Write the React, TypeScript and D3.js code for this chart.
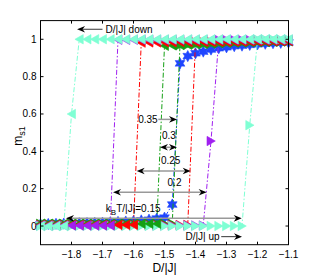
import React from "react";
import * as d3 from "d3";

// D/|J| grid used by every sweep
const D = [
  -1.9, -1.875, -1.85, -1.825, -1.8, -1.775, -1.75, -1.725, -1.7, -1.675, -1.65,
  -1.625, -1.6, -1.575, -1.55, -1.525, -1.5, -1.475, -1.45, -1.425, -1.4, -1.375,
  -1.35, -1.325, -1.3, -1.275, -1.25, -1.225, -1.2, -1.175, -1.15, -1.125, -1.1,
];

// kT = 0.15
const up015 = [
  0, 0, 0, 0, 0, 0, 0, 0, 0, 0, 0, 0, 0, 0, 0, 0, 0, 0, 0, 0, 0, 0, 0, 0, 0, 0, 0,
  0.54, 1, 1, 1, 1, 1,
];
const down015 = [
  0, 0, 0, 0, 0.6, 1, 1, 1, 1, 1, 1, 1, 1, 1, 1, 1, 1, 1, 1, 1, 1, 1, 1, 1, 1, 1,
  1, 1, 1, 1, 1, 1, 1,
];
// kT = 0.2
const up020 = [
  0.003, 0.003, 0.003, 0.003, 0.003, 0.003, 0.003, 0.003, 0.003, 0.003, 0.003,
  0.003, 0.003, 0.003, 0.003, 0.003, 0.003, 0.003, 0.003, 0.003, 0.003, 0.003,
  0.455, 0.997, 0.997, 0.997, 0.997, 0.997, 0.997, 0.997, 0.997, 0.997, 0.997,
];
const down020 = [
  0.003, 0.003, 0.003, 0.003, 0.003, 0.003, 0.003, 0.003, 0.003, 0.003, 0.997,
  0.997, 0.997, 0.997, 0.997, 0.997, 0.997, 0.997, 0.997, 0.997, 0.997, 0.997,
  0.997, 0.997, 0.997, 0.997, 0.997, 0.997, 0.997, 0.997, 0.997, 0.997, 0.997,
];
// kT = 0.25
const up025 = [
  0.006, 0.006, 0.006, 0.006, 0.006, 0.006, 0.006, 0.006, 0.006, 0.006, 0.006,
  0.006, 0.006, 0.006, 0.006, 0.006, 0.006, 0.006, 0.006, 0.006, 0.985, 0.986,
  0.986, 0.987, 0.987, 0.988, 0.988, 0.989, 0.989, 0.99, 0.99, 0.99, 0.991,
];
const down025 = [
  0.006, 0.006, 0.006, 0.006, 0.006, 0.006, 0.006, 0.006, 0.006, 0.006, 0.006,
  0.006, 0.006, 0.982, 0.983, 0.983, 0.984, 0.984, 0.985, 0.985, 0.986, 0.986,
  0.986, 0.987, 0.987, 0.988, 0.988, 0.989, 0.989, 0.99, 0.99, 0.99, 0.991,
];
// kT = 0.3
const up030 = [
  0.012, 0.012, 0.012, 0.012, 0.012, 0.012, 0.012, 0.012, 0.012, 0.012, 0.012,
  0.012, 0.012, 0.012, 0.012, 0.012, 0.012, 0.012, 0.969, 0.971, 0.973, 0.975,
  0.977, 0.979, 0.981, 0.982, 0.983, 0.984, 0.985, 0.986, 0.987, 0.988, 0.989,
];
const down030 = [
  0.012, 0.012, 0.012, 0.012, 0.012, 0.012, 0.012, 0.012, 0.012, 0.012, 0.012,
  0.012, 0.012, 0.012, 0.012, 0.012, 0.965, 0.967, 0.969, 0.971, 0.973, 0.975,
  0.977, 0.979, 0.981, 0.982, 0.983, 0.984, 0.985, 0.986, 0.987, 0.988, 0.989,
];
// kT = 0.35 (no hysteresis)
const curve035 = [
  0.01, 0.011, 0.012, 0.013, 0.014, 0.015, 0.016, 0.017, 0.018, 0.02, 0.022,
  0.024, 0.027, 0.03, 0.034, 0.04, 0.045, 0.115, 0.871, 0.91, 0.925, 0.934,
  0.945, 0.952, 0.957, 0.963, 0.966, 0.97, 0.973, 0.976, 0.979, 0.981, 0.983,
];

const xTicks = [-1.8, -1.7, -1.6, -1.5, -1.4, -1.3, -1.2, -1.1];
const xTickLabels = ["\u22121.8", "\u22121.7", "\u22121.6", "\u22121.5", "\u22121.4", "\u22121.3", "\u22121.2", "\u22121.1"];
const yTicks = [0, 0.2, 0.4, 0.6, 0.8, 1];
const yTickLabels = ["0", "0.2", "0.4", "0.6", "0.8", "1"];

// annotation arrows, in data units
const tempArrows = [
  { label: "0.3", x1: -1.5145, x2: -1.4597, y: 0.4215, tx: -1.4855, ty: 0.465 },
  { label: "0.25", x1: -1.5897, x2: -1.4155, y: 0.2946, tx: -1.48, ty: 0.332 },
  { label: "0.2", x1: -1.666, x2: -1.364, y: 0.181, tx: -1.4677, ty: 0.215 },
  { label: "0.15", x1: -1.8177, x2: -1.251, y: 0.041, tx: -1.601, ty: 0.077 },
];

const W = 319;
const H = 275;
const FONT = "'Liberation Sans', Arial, Helvetica, sans-serif";

const x = d3.scaleLinear().domain([-1.9, -1.1]).range([40.5, 288.5]);
const y = d3.scaleLinear().domain([-0.1, 1.1]).range([244.7, 20.6]);

const line = d3
  .line<number>()
  .x((d, i) => x(D[i]))
  .y(d => y(d));

const triLeft = (cx, cy) =>
  `M${cx - 4.3},${cy}L${cx + 4},${cy - 4.7}L${cx + 4},${cy + 4.7}Z`;
const triRight = (cx, cy) =>
  `M${cx + 4.3},${cy}L${cx - 4},${cy - 4.7}L${cx - 4},${cy + 4.7}Z`;
const hexagram = (cx, cy) => {
  const pts = d3.range(12).map(k => {
    const a = (k * Math.PI) / 6 - Math.PI / 2;
    const r = k % 2 === 0 ? 5.6 : 3.1;
    return [cx + r * Math.cos(a), cy + r * Math.sin(a)];
  });
  return "M" + pts.map(p => p.join(",")).join("L") + "Z";
};

const Sweep = ({ values, color, marker }) => (
  <g>
    <path
      d={line(values)}
      fill="none"
      stroke={color}
      strokeWidth={1}
      strokeDasharray="5,2,1.5,2"
    />
    {values.map((v, i) => (
      <path
        key={i}
        d={marker(x(D[i]), y(v))}
        fill={color}
        stroke={color}
        strokeWidth={0.6}
      />
    ))}
  </g>
);

const Head = ({ px, py, dir }) => (
  <path
    d={`M${px},${py}L${px - dir * 8},${py - 3.3}L${px - dir * 5.5},${py}L${px - dir * 8},${py + 3.3}Z`}
    fill="#000"
  />
);

const cyan = "#7fffd4";
const purple = "#a020f0";
const red = "#ff0000";
const green = "#14a014";
const blue = "#1f45ff";

const App = () => {
  const upSweeps = [
    { v: up030, c: green },
    { v: up025, c: red },
    { v: up020, c: purple },
    { v: up015, c: cyan },
  ];
  const downSweeps = [
    { v: down030, c: green },
    { v: down025, c: red },
    { v: down020, c: purple },
    { v: down015, c: cyan },
  ];
  const [x0, x1] = x.range();
  const [y0, y1] = y.range();

  return (
    <svg
      width={W}
      height={H}
      style={{ position: "absolute", left: 0, top: 0, background: "#fff" }}
      fontFamily={FONT}
    >
      <rect x={0} y={0} width={W} height={H} fill="#fff" />

      <Sweep values={curve035} color={blue} marker={hexagram} />
      {upSweeps.map((s, i) => (
        <Sweep key={"u" + i} values={s.v} color={s.c} marker={triRight} />
      ))}
      {downSweeps.map((s, i) => (
        <Sweep key={"d" + i} values={s.v} color={s.c} marker={triLeft} />
      ))}

      {/* hysteresis width arrows */}
      {tempArrows.map(a => (
        <g key={a.label}>
          <line
            x1={x(a.x1) + 5}
            x2={x(a.x2) - 5}
            y1={y(a.y)}
            y2={y(a.y)}
            stroke="#999"
            strokeWidth={1.5}
          />
          <Head px={x(a.x1)} py={y(a.y)} dir={-1} />
          <Head px={x(a.x2)} py={y(a.y)} dir={1} />
          {a.label !== "0.15" && (
            <text x={x(a.tx)} y={y(a.ty)} fontSize={10} textAnchor="middle">
              {a.label}
            </text>
          )}
        </g>
      ))}
      <text x={x(-1.601)} y={y(0.077)} fontSize={10} textAnchor="middle">
        k<tspan fontSize={8} dy={3}>B</tspan>
        <tspan dy={-3}>T/|J|=0.15</tspan>
      </text>

      {/* kT = 0.35 pointer */}
      <line x1={x(-1.52)} x2={x(-1.4597) - 5} y1={y(0.571)} y2={y(0.571)} stroke="#999" strokeWidth={1.5} />
      <Head px={x(-1.4597)} py={y(0.571)} dir={1} />
      <text x={x(-1.522)} y={y(0.552)} fontSize={10} textAnchor="end">
        0.35
      </text>

      {/* sweep direction labels */}
      <line x1={x(-1.70)} x2={x(-1.78) + 5} y1={y(1.0536)} y2={y(1.0536)} stroke="#000" strokeWidth={0.8} />
      <Head px={x(-1.782)} py={y(1.0536)} dir={-1} />
      <text x={x(-1.69)} y={y(1.034)} fontSize={10}>
        D/|J| down
      </text>
      <text x={x(-1.4325)} y={y(-0.077)} fontSize={10}>
        D/|J| up
      </text>
      <line x1={x(-1.317)} x2={x(-1.25) - 5} y1={y(-0.057)} y2={y(-0.057)} stroke="#000" strokeWidth={0.8} />
      <Head px={x(-1.25)} py={y(-0.057)} dir={1} />

      {/* axes box */}
      <rect x={x0} y={y1} width={x1 - x0} height={y0 - y1} fill="none" stroke="#000" strokeWidth={1} />
      {xTicks.map((t, i) => (
        <g key={"xt" + i}>
          <line x1={x(t)} x2={x(t)} y1={y0} y2={y0 - 3} stroke="#000" />
          <line x1={x(t)} x2={x(t)} y1={y1} y2={y1 + 3} stroke="#000" />
          <text x={x(t)} y={y0 + 13} fontSize={10} textAnchor="middle">
            {xTickLabels[i]}
          </text>
        </g>
      ))}
      {yTicks.map((t, i) => (
        <g key={"yt" + i}>
          <line x1={x0} x2={x0 + 3} y1={y(t)} y2={y(t)} stroke="#000" />
          <line x1={x1} x2={x1 - 3} y1={y(t)} y2={y(t)} stroke="#000" />
          <text x={x0 - 4} y={y(t) + 3.5} fontSize={10} textAnchor="end">
            {yTickLabels[i]}
          </text>
        </g>
      ))}

      <text x={(x0 + x1) / 2} y={271.5} fontSize={12} textAnchor="middle">
        D/|J|
      </text>
      <text transform="translate(22,136) rotate(-90)" fontSize={12} textAnchor="middle">
        m<tspan fontSize={9} dy={3}>s1</tspan>
      </text>
    </svg>
  );
};

export default App;
